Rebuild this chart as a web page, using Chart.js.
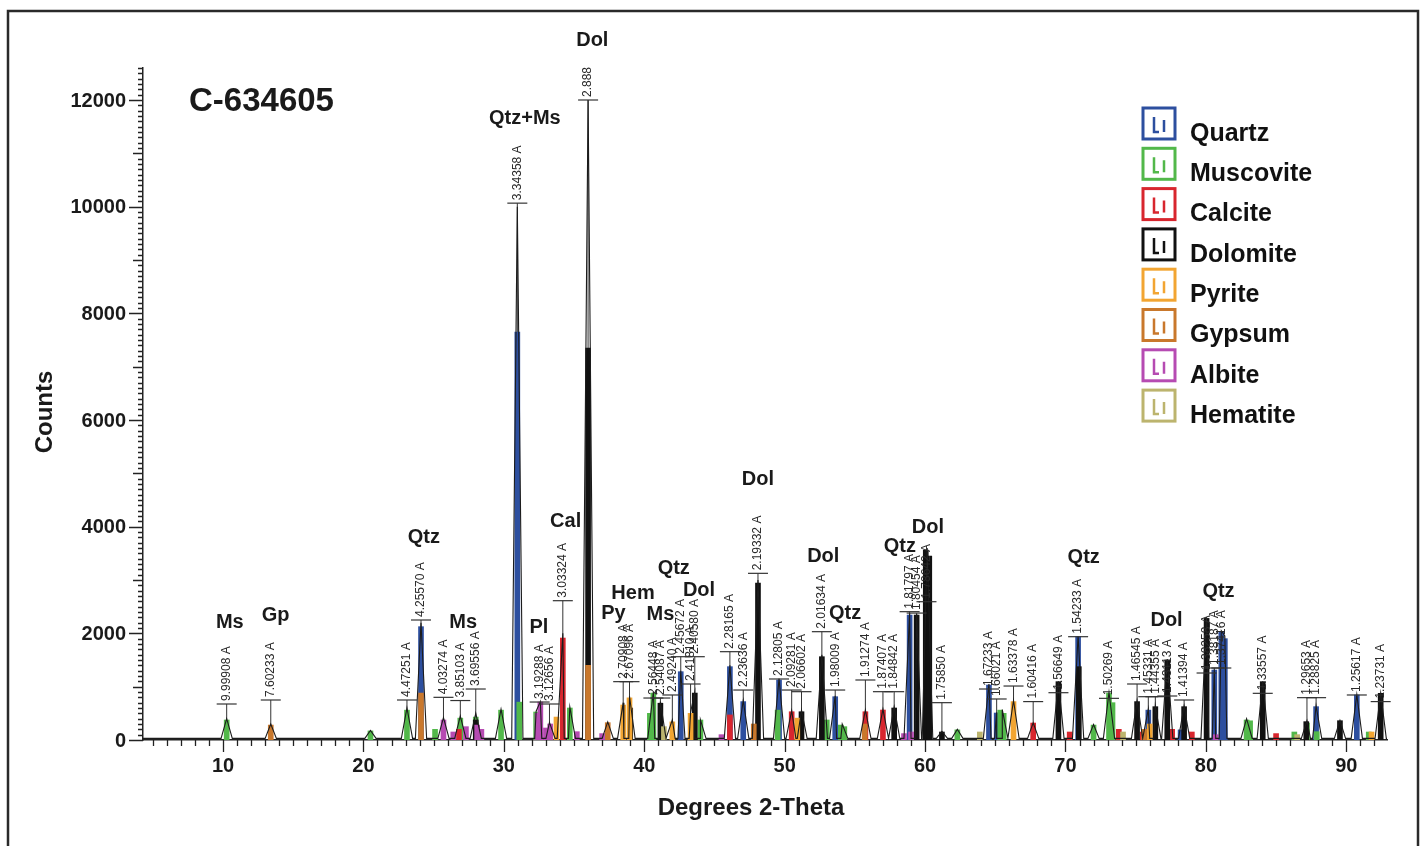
<!DOCTYPE html>
<html>
<head>
<meta charset="utf-8">
<script src="https://cdn.jsdelivr.net/npm/chart.js@4.4.0/dist/chart.umd.min.js"></script>
<style>
  html, body { margin: 0; padding: 0; background: #fff; }
  #wrap { width: 1426px; height: 846px; position: relative; }
</style>
</head>
<body>
<div id="wrap"><canvas id="xrd"></canvas></div>
<script>
// axis range (degrees 2-theta, counts)
const xMin = 4.3, xMax = 92.9, yMax = 12600;
const baseCounts = 30;
const yTickValues = [0, 2000, 4000, 6000, 8000, 10000, 12000];

const phaseNames = ['Quartz', 'Muscovite', 'Calcite', 'Dolomite', 'Pyrite', 'Gypsum', 'Albite', 'Hematite'];
const phaseColors = ['#2d4f9f', '#52b84a', '#d8262e', '#111111', '#f2a532', '#c9782c', '#b64bb2', '#bcb46e'];

// fitted phase sticks: position (2-theta) and counts
const quartzPos = [24.1, 30.96, 42.6, 46.1, 47.05, 49.6, 53.6, 58.9, 64.55, 65.1, 70.9, 75.9, 78.2, 80.6, 81.1, 81.35, 87.85, 90.75];
const quartzH   = [2125, 7650, 1281, 1375, 720, 1125, 812, 2343, 1031, 506, 1937, 560, 190, 1312, 2031, 1900, 625, 844];

const muscovitePos = [10.26, 20.5, 23.1, 25.1, 26.9, 28.0, 29.8, 31.1, 32.3, 34.7, 40.4, 40.65, 44.0, 49.5, 53.0, 54.0, 54.25, 62.3, 65.35, 65.6, 72.0, 73.1, 73.35, 82.9, 83.15, 86.3, 87.2, 87.9, 91.6];
const muscoviteH   = [375, 170, 560, 200, 410, 430, 560, 710, 525, 600, 500, 880, 375, 560, 375, 280, 250, 190, 560, 500, 280, 880, 700, 375, 360, 150, 318, 156, 150];

const calcitePos = [26.8, 34.2, 46.1, 50.5, 55.75, 57.0, 67.7, 70.3, 73.8, 75.5, 77.6, 79.0, 85.0];
const calciteH   = [200, 1912, 470, 530, 530, 562, 318, 150, 200, 150, 200, 150, 120];

const dolomitePos = [28.0, 36.0, 39.0, 41.15, 43.6, 48.1, 51.2, 52.65, 57.8, 59.4, 60.05, 60.3, 61.2, 69.5, 70.95, 75.1, 76.4, 77.25, 78.45, 80.05, 84.05, 87.15, 89.55, 92.45];
const dolomiteH   = [375, 7350, 600, 690, 880, 2940, 530, 1562, 600, 2343, 3560, 3450, 150, 1094, 1375, 720, 625, 1500, 625, 2280, 1094, 344, 362, 875];

const pyritePos = [33.75, 38.5, 38.95, 42.0, 43.3, 50.9, 66.3, 76.0, 91.8];
const pyriteH   = [430, 656, 790, 340, 500, 410, 720, 300, 150];

const gypsumPos = [13.4, 24.1, 36.0, 37.4, 47.8, 55.7, 75.6];
const gypsumH   = [280, 880, 1400, 325, 300, 300, 200];

const albitePos = [25.7, 26.4, 27.3, 28.1, 28.4, 32.4, 32.6, 33.0, 33.3, 35.2, 37.0, 45.5, 58.5, 59.0, 80.7];
const albiteH   = [375, 150, 250, 280, 200, 500, 712, 225, 300, 156, 120, 100, 120, 150, 100];

const hematitePos = [41.4, 63.9, 74.1, 86.5];
const hematiteH   = [250, 150, 150, 100];

// observed pattern peaks
const obsPos = [10.26, 13.4, 20.5, 23.1, 24.1, 25.7, 26.9, 28.0, 29.8, 30.96, 32.3, 32.6, 33.25, 34.2, 34.7, 36.0, 37.4, 38.5, 38.95, 40.65,
  41.15, 42.0, 42.6, 43.3, 43.6, 44.0, 46.1, 47.05, 48.1, 49.6, 50.5, 51.2, 52.65, 53.6, 54.1, 55.75, 57.0, 57.8, 58.9, 59.4,
  60.15, 61.2, 62.3, 64.55, 65.1, 65.5, 66.3, 67.7, 69.5, 70.9, 72.0, 73.1, 75.1, 75.9, 76.4, 77.25, 78.45, 80.05, 80.6, 81.1,
  81.35, 82.9, 84.05, 87.2, 87.85, 89.55, 90.75, 92.45];
const obsH = [400, 300, 180, 600, 2200, 420, 450, 500, 580, 10000, 540, 720, 330, 2000, 620, 12000, 340, 700, 820, 900,
  720, 380, 1300, 520, 900, 380, 1400, 740, 3000, 1150, 550, 560, 1600, 830, 300, 560, 580, 620, 2380, 2360,
  3600, 160, 200, 1050, 520, 570, 740, 320, 1100, 1950, 290, 890, 740, 580, 640, 1520, 640, 2300, 1320, 2050,
  1950, 400, 1100, 360, 640, 370, 850, 880];
const obsHalfWidth = 0.4;

// d-spacing markers
const dText = ['9.99908 A', '7.60233 A', '4.47251 A', '4.25570 A', '4.03274 A', '3.85103 A', '3.69556 A', '3.34358 A', '3.19288 A', '3.12656 A',
  '3.03324 A', '2.888', '2.70908 A', '2.67096 A', '2.56448 A', '2.54087 A', '2.49240 A', '2.45672 A', '2.41810 A', '2.40580 A',
  '2.28165 A', '2.23636 A', '2.19332 A', '2.12805 A', '2.09281 A', '2.06602 A', '2.01634 A', '1.98009 A', '1.91274 A', '1.87407 A',
  '1.84842 A', '1.81797 A', '1.80454 A', '1.78642 A', '1.75850 A', '1.67233 A', '1.66021 A', '1.63378 A', '1.60416 A', '1.56649 A',
  '1.54233 A', '1.50269 A', '1.46545 A', '1.45331 A', '1.44355 A', '1.43113 A', '1.41394 A', '1.38258 A', '1.38187 A', '1.37416 A',
  '1.33557 A', '1.29653 A', '1.28825 A', '1.25617 A', '1.23731 A'];
const dPos = [10.26, 13.4, 23.1, 24.1, 25.7, 26.9, 28.0, 30.96, 32.55, 33.25,
  34.2, 36.0, 38.5, 38.95, 40.65, 41.15, 42.0, 42.6, 43.3, 43.6,
  46.1, 47.05, 48.1, 49.6, 50.5, 51.2, 52.65, 53.6, 55.75, 57.0,
  57.8, 58.9, 59.4, 60.1, 61.2, 64.55, 65.1, 66.3, 67.7, 69.5,
  70.9, 73.1, 75.1, 75.9, 76.4, 77.25, 78.45, 80.05, 80.6, 81.1,
  84.05, 87.2, 87.85, 90.75, 92.45];
const dTop = [675, 750, 750, 2250, 800, 740, 956, 10066, 712, 675,
  2612, 12000, 1094, 1094, 787, 787, 844, 1562, 1050, 1562,
  1656, 937, 3125, 1144, 937, 906, 2031, 937, 1125, 906,
  906, 2406, 2380, 2593, 700, 956, 769, 1012, 720, 887,
  1937, 781, 1050, 812, 812, 825, 750, 1256, 1350, 1350,
  875, 794, 794, 844, 720];

// phase tags above peaks
const tagText = ['Ms', 'Gp', 'Qtz', 'Ms', 'Qtz+Ms', 'Pl', 'Cal', 'Dol', 'Py', 'Hem', 'Ms', 'Qtz', 'Dol', 'Dol', 'Dol', 'Qtz', 'Qtz', 'Dol', 'Qtz', 'Dol', 'Qtz'];
const tagPos  = [10.48, 13.75, 24.3, 27.1, 31.5, 32.5, 34.4, 36.3, 37.8, 39.2, 41.15, 42.1, 43.9, 48.1, 52.75, 54.3, 58.2, 60.2, 71.3, 77.2, 80.9];
const tagCounts = [2212, 2344, 3806, 2212, 11662, 2119, 4106, 13125, 2381, 2756, 2362, 3225, 2812, 4894, 3450, 2381, 3637, 3994, 3431, 2250, 2794];

const phasePos = [quartzPos, muscovitePos, calcitePos, dolomitePos, pyritePos, gypsumPos, albitePos, hematitePos];
const phaseH = [quartzH, muscoviteH, calciteH, dolomiteH, pyriteH, gypsumH, albiteH, hematiteH];

function observedPoints() {
  const pts = [];
  obsPos.forEach((p, i) => {
    pts.push({x: p - obsHalfWidth, y: baseCounts});
    pts.push({x: p, y: obsH[i]});
    pts.push({x: p + obsHalfWidth, y: baseCounts});
  });
  pts.sort((a, b) => a.x - b.x);
  return [{x: xMin, y: baseCounts}].concat(pts, [{x: xMax, y: baseCounts}]);
}

const FONT = '"Liberation Sans", Arial, Helvetica, sans-serif';
Chart.defaults.font.family = FONT;

const datasets = [{
  type: 'line',
  label: 'Observed',
  data: observedPoints(),
  borderColor: '#1c1c1c',
  borderWidth: 1.1,
  pointRadius: 0,
  fill: false,
  tension: 0,
  order: 0
}];
phaseNames.forEach((name, i) => {
  datasets.push({
    type: 'bar',
    label: name,
    data: phasePos[i].map((p, j) => ({x: p, y: phaseH[i][j]})),
    backgroundColor: phaseColors[i],
    barThickness: 5,
    grouped: false,
    order: phaseNames.length - i + 1
  });
});

const decor = {
  id: 'decor',
  beforeDatasetsDraw(chart) {
    const ctx = chart.ctx, xs = chart.scales.x, ys = chart.scales.y;
    ctx.save();
    ctx.strokeStyle = '#333';
    ctx.lineWidth = 1;
    ctx.beginPath();
    dPos.forEach((p, i) => {
      const px = xs.getPixelForValue(p);
      ctx.moveTo(px, ys.getPixelForValue(0));
      ctx.lineTo(px, ys.getPixelForValue(dTop[i]));
    });
    ctx.stroke();
    ctx.restore();
  },
  afterDraw(chart) {
    const ctx = chart.ctx, xs = chart.scales.x, ys = chart.scales.y;
    const area = chart.chartArea;
    ctx.save();

    // frame round the figure
    ctx.strokeStyle = '#2a2a2a';
    ctx.lineWidth = 2.5;
    ctx.strokeRect(8, 11, 1410, 850);

    // axis ticks
    ctx.strokeStyle = '#222';
    ctx.lineWidth = 1.3;
    ctx.beginPath();
    for (let v = Math.ceil(xMin); v <= xMax; v++) {
      const px = Math.round(xs.getPixelForValue(v)) + 0.5;
      const len = v % 10 === 0 ? 12 : 6;
      ctx.moveTo(px, area.bottom);
      ctx.lineTo(px, area.bottom + len);
    }
    for (let v = 0; v <= yMax; v += 100) {
      const py = Math.round(ys.getPixelForValue(v)) + 0.5;
      const len = v % 2000 === 0 ? 14 : (v % 1000 === 0 ? 10 : 5);
      ctx.moveTo(area.left, py);
      ctx.lineTo(area.left - len, py);
    }
    ctx.stroke();

    // y tick labels
    ctx.fillStyle = '#1a1a1a';
    ctx.font = 'bold 20px ' + FONT;
    ctx.textAlign = 'right';
    ctx.textBaseline = 'middle';
    yTickValues.forEach(v => {
      ctx.fillText(String(v), area.left - 17, ys.getPixelForValue(v) + 1);
    });

    // d-spacing bars and labels
    ctx.strokeStyle = '#333';
    ctx.fillStyle = '#2a2a2a';
    ctx.lineWidth = 1.2;
    ctx.font = '12px ' + FONT;
    dText.forEach((t, i) => {
      const px = xs.getPixelForValue(dPos[i]);
      const py = ys.getPixelForValue(dTop[i]);
      ctx.beginPath();
      ctx.moveTo(px - 10, py);
      ctx.lineTo(px + 10, py);
      ctx.stroke();
      ctx.save();
      ctx.translate(px, py - 3);
      ctx.rotate(-Math.PI / 2);
      ctx.textAlign = 'left';
      ctx.textBaseline = 'middle';
      ctx.fillText(t, 0, 0);
      ctx.restore();
    });

    // phase tags
    ctx.fillStyle = '#1a1a1a';
    ctx.font = 'bold 20px ' + FONT;
    ctx.textAlign = 'center';
    ctx.textBaseline = 'middle';
    tagText.forEach((t, i) => {
      ctx.fillText(t, xs.getPixelForValue(tagPos[i]), ys.getPixelForValue(tagCounts[i]));
    });

    // sample name
    ctx.font = 'bold 33px ' + FONT;
    ctx.textAlign = 'left';
    ctx.fillText('C-634605', 189, 102);

    // axis titles
    ctx.font = 'bold 24px ' + FONT;
    ctx.textAlign = 'center';
    ctx.fillText('Degrees 2-Theta', 751, 808);
    ctx.save();
    ctx.translate(45, 412);
    ctx.rotate(-Math.PI / 2);
    ctx.fillText('Counts', 0, 0);
    ctx.restore();

    // legend
    phaseNames.forEach((name, i) => {
      const top = 108 + i * 40.3, left = 1143;
      ctx.strokeStyle = phaseColors[i];
      ctx.lineWidth = 3;
      ctx.strokeRect(left, top, 32, 31);
      ctx.lineWidth = 2.5;
      ctx.beginPath();
      ctx.moveTo(left + 11, top + 9);
      ctx.lineTo(left + 11, top + 24);
      ctx.lineTo(left + 16, top + 24);
      ctx.moveTo(left + 21, top + 12);
      ctx.lineTo(left + 21, top + 24);
      ctx.stroke();
      ctx.fillStyle = '#111';
      ctx.font = 'bold 25px ' + FONT;
      ctx.textAlign = 'left';
      ctx.textBaseline = 'middle';
      ctx.fillText(name, 1190, top + 26);
    });

    ctx.restore();
  }
};

new Chart(document.getElementById('xrd'), {
  type: 'line',
  data: { datasets: datasets },
  options: {
    responsive: true,
    maintainAspectRatio: false,
    animation: false,
    layout: { padding: { top: 68, right: 39, left: 0, bottom: 0 } },
    plugins: {
      legend: { display: false },
      tooltip: { enabled: false }
    },
    scales: {
      x: {
        type: 'linear',
        min: xMin,
        max: xMax,
        offset: false,
        grid: { display: false, drawTicks: false },
        border: { display: true, color: '#222', width: 1.5 },
        ticks: {
          stepSize: 1,
          autoSkip: false,
          maxRotation: 0,
          padding: 14,
          color: '#1a1a1a',
          font: { size: 20, weight: 'bold' },
          callback: v => (Math.abs(v % 10) < 1e-6 ? String(v) : '')
        },
        afterFit: s => { s.height = 106; }
      },
      y: {
        type: 'linear',
        min: 0,
        max: yMax,
        grid: { display: false, drawTicks: false },
        border: { display: true, color: '#222', width: 1.5 },
        ticks: { display: false },
        afterFit: s => { s.width = 143; }
      }
    }
  },
  plugins: [decor]
});
</script>
</body>
</html>
